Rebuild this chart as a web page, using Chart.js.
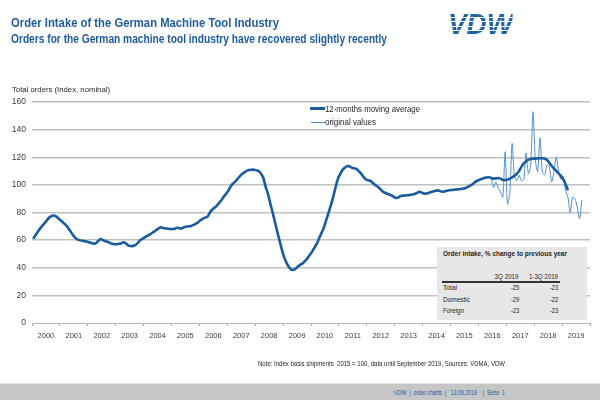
<!DOCTYPE html>
<html><head><meta charset="utf-8">
<script src="https://cdn.jsdelivr.net/npm/chart.js@4.4.0/dist/chart.umd.min.js"></script>
<style>
html,body{margin:0;padding:0;background:#fff;}
body{width:600px;height:400px;position:relative;overflow:hidden;font-family:"Liberation Sans",Arial,sans-serif;}
#wrap{position:absolute;left:0;top:0;width:600px;height:400px;}
.t{position:absolute;white-space:nowrap;line-height:1;transform-origin:0 0;}
.r{transform-origin:100% 0;}
.blue{color:#1f5c9e;}
#logo{position:absolute;left:448px;top:8.5px;font:italic bold 29.3px "Liberation Sans",Arial,sans-serif;line-height:1;white-space:nowrap;transform-origin:0 0;
 background:repeating-linear-gradient(180deg,#1f62aa 0px,#1f62aa 3.4px,#ffffff 3.4px,#ffffff 4.5px);-webkit-background-clip:text;background-clip:text;color:transparent;}
#band{position:absolute;left:0;top:383px;width:600px;height:17px;background:#c6c6c6;border-top:1px solid #e2e2e2;}
#tbl{position:absolute;left:437px;top:247px;width:150px;height:73px;background:#e7e7e7;}
#hline{position:absolute;left:441.7px;top:281px;width:118px;height:1.5px;background:#333;}
.lg1{position:absolute;left:310px;top:107px;width:15px;height:3px;background:#1a5a9e;}
.lg2{position:absolute;left:311px;top:122px;width:14px;height:1px;background:#4f8fca;}
</style></head>
<body>
<div id="wrap"><canvas id="c"></canvas></div>

<div class="t blue" data-w="268" style="left:11px;top:15.5px;font-weight:bold;font-size:13px;">Order Intake of the German Machine Tool Industry</div>
<div class="t blue" data-w="376" style="left:11px;top:33.3px;font-weight:bold;font-size:12px;">Orders for the German machine tool industry have recovered slightly recently</div>
<div id="logo" data-w="65">VDW</div>

<div class="t" data-w="98" style="left:11.7px;top:85.5px;font-size:8px;color:#262626;">Total orders (Index, nominal)</div>

<div class="lg1"></div>
<div class="t" data-w="95" style="left:325px;top:104.6px;font-size:8.4px;color:#262626;">12-months moving average</div>
<div class="lg2"></div>
<div class="t" data-w="51" style="left:325px;top:118px;font-size:8.4px;color:#262626;">original values</div>

<div id="tbl"></div>
<div class="t" data-w="124" style="left:443px;top:249.7px;font-size:7.5px;font-weight:bold;color:#262626;">Order intake, % change to previous year</div>
<div class="t r" data-w="24" style="right:81px;top:272.9px;font-size:7.2px;color:#262626;">3Q 2019</div>
<div class="t r" data-w="29" style="right:42px;top:272.9px;font-size:7.2px;color:#262626;">1-3Q 2019</div>
<div id="hline"></div>
<div class="t" data-w="14" style="left:443px;top:283.9px;font-size:7.2px;color:#262626;">Total</div>
<div class="t" data-w="27" style="left:443px;top:295.6px;font-size:7.2px;color:#262626;">Domestic</div>
<div class="t" data-w="21" style="left:443px;top:307.2px;font-size:7.2px;color:#262626;">Foreign</div>
<div class="t r" data-w="8.5" style="right:81px;top:283.9px;font-size:7.2px;color:#262626;">-25</div>
<div class="t r" data-w="8.5" style="right:42px;top:283.9px;font-size:7.2px;color:#262626;">-23</div>
<div class="t r" data-w="8.5" style="right:81px;top:295.6px;font-size:7.2px;color:#262626;">-29</div>
<div class="t r" data-w="8.5" style="right:42px;top:295.6px;font-size:7.2px;color:#262626;">-22</div>
<div class="t r" data-w="8.5" style="right:81px;top:307.2px;font-size:7.2px;color:#262626;">-23</div>
<div class="t r" data-w="8.5" style="right:42px;top:307.2px;font-size:7.2px;color:#262626;">-23</div>

<div class="t" data-w="247" style="left:258px;top:359.6px;font-size:7.5px;color:#262626;">Note: Index basis shipments&nbsp; 2015 = 100, data until September 2019, Sources: VDMA, VDW</div>

<div id="band"></div>
<div class="t blue" data-w="111" style="left:394px;top:389.5px;font-size:6.5px;">VDW&nbsp; |&nbsp; order charts&nbsp; |&nbsp;&nbsp; 13.08.2019&nbsp;&nbsp;&nbsp; |&nbsp; Seite&nbsp; 1</div>

<script>
// ---- data ----
const yearLabels = ['2000','2001','2002','2003','2004','2005','2006','2007','2008','2009',
  '2010','2011','2012','2013','2014','2015','2016','2017','2018','2019'];
const yTickValues = [0,20,40,60,80,100,120,140,160];

// 12-months moving average, monthly from Jan 2000
const maStartMonth = 0;
const maValues = [
  61,63.5,66,68.5,70.5,72.5,74.5,76.5,77.5,77.8,77,75.5,          // 2000
  74,72.5,71,69,66.5,64,62,60.5,60,59.5,59.3,59,                  // 2001
  58.5,58,57.5,57.8,59.5,60.7,60,59.3,58.8,58,57.3,57,            // 2002
  57,57.3,57.8,58.5,57.5,56,55.7,55.8,56.5,58,59.8,61,            // 2003
  62,63,64,65,66.2,67.3,68.5,69.2,68.8,68.5,68.2,68,              // 2004
  68,68.3,69,68.5,68.5,69.5,69.8,70,70.3,71,72,73,                // 2005
  74.5,75.5,76.3,77,80,82,83.5,85,87,89,91.5,93.5,                // 2006
  96,99,101,102.5,104.5,106.5,108,109.2,110.3,110.8,111,111,      // 2007
  110.5,110,108,105,98.5,93.5,86.5,80,73,66,59.5,53,              // 2008
  47.5,43.5,40.5,38.7,38.5,39.5,41,42.3,43.3,45,47,49.3,          // 2009
  51.7,54.6,57.5,61.3,65.1,68.9,74.3,79.5,85,91,97.8,104,         // 2010
  107.5,110.8,112.3,113.5,113.4,112.5,112,111.6,110,108.3,106,104,// 2011
  103.3,103,101.5,100,99,97.5,95.8,94.5,93.8,93.2,92.5,91.5,      // 2012
  90.6,90.8,92,92.2,92.3,92.5,92.7,93,93.4,94,95,94.5,            // 2013
  93.8,93.7,94.2,94.7,95.2,95.7,96,95.5,95,95.3,95.8,96.1,        // 2014
  96.3,96.5,96.7,96.8,97,97.3,97.8,98.5,99.5,100.5,102,103,       // 2015
  103.7,104.3,105,105.3,105.5,105,104.5,104.7,105,104.5,103.5,103.5, // 2016
  103.8,104.5,105.5,106.5,108,110,113,115.6,117,118.3,118.7,119,  // 2017
  119,119.2,119.3,119.3,119,118.2,116,113.8,111.8,110.2,108.3,106.5, // 2018
  104,100.5,96                                                     // 2019
];

// original monthly values, from Jun 2016
const origStartMonth = 197;
const origValues = [
  106,98,102,97.5,95,91,124,86,94,130,106,103,107,103,104,123,108,115,153,118,
  109.5,134,109.5,107,114.5,113,102,109.5,120,109.5,104,106,96,91,80,91,90,84,75.5,89
];

const maPoints = maValues.map((v,i)=>({x: maStartMonth + i + 0.5, y: v}));
const origPoints = origValues.map((v,i)=>({x: origStartMonth + i + 0.5, y: v}));

Chart.defaults.font.family = '"Liberation Sans", Arial, sans-serif';

new Chart(document.getElementById('c'), {
  type: 'line',
  data: {
    datasets: [
      { label: '12-months moving average', data: maPoints, borderColor: '#1a5a9e', borderWidth: 2.6,
        pointRadius: 0, tension: 0.35, fill: false },
      { label: 'original values', data: origPoints, borderColor: '#4f8fca', borderWidth: 1,
        pointRadius: 0, tension: 0.25, fill: false }
    ]
  },
  options: {
    responsive: true, maintainAspectRatio: false, animation: false,
    layout: { padding: { top: 102, right: 10, left: 0, bottom: 0 } },
    plugins: { legend: { display: false }, tooltip: { enabled: false }, title: { display: false } },
    scales: {
      x: {
        type: 'linear', min: 0, max: yearLabels.length * 12,
        afterBuildTicks: (ax) => {
          const t = [];
          for (let v = 0; v <= yearLabels.length * 12; v += 6) t.push({ value: v });
          ax.ticks = t;
        },
        afterFit: (s) => { s.height = 77; },
        border: { display: true, color: '#b5b5b5', width: 1 },
        grid: { drawOnChartArea: false, drawTicks: true, tickLength: 3,
          tickColor: (ctx) => (ctx.tick && ctx.tick.value % 12 === 0) ? '#a8a8a8' : 'rgba(0,0,0,0)' },
        ticks: { autoSkip: false, maxRotation: 0, minRotation: 0, padding: 5,
          color: '#404040', font: { size: 7.5 },
          callback: (v) => (v % 12 === 6) ? yearLabels[(v - 6) / 12] : '' }
      },
      y: {
        min: 0, max: 160,
        afterBuildTicks: (ax) => { ax.ticks = yTickValues.map(v => ({ value: v })); },
        afterFit: (s) => { s.width = 32; },
        border: { display: false },
        grid: { drawTicks: false, lineWidth: 1.5,
          color: (ctx) => (ctx.tick && ctx.tick.value === 0) ? 'rgba(0,0,0,0)' : '#c0c0c0' },
        ticks: { padding: 6, color: '#404040', font: { size: 8.5 } }
      }
    }
  }
});

// fit text widths
function fit(){
  document.querySelectorAll('[data-w]').forEach(el => {
    el.style.transform = 'none';
    const w = el.getBoundingClientRect().width;
    const target = parseFloat(el.dataset.w);
    if (w > 0) el.style.transform = 'scaleX(' + (target / w) + ')';
  });
}
if (document.fonts && document.fonts.ready) document.fonts.ready.then(fit); else fit();
fit();
</script>
</body></html>
